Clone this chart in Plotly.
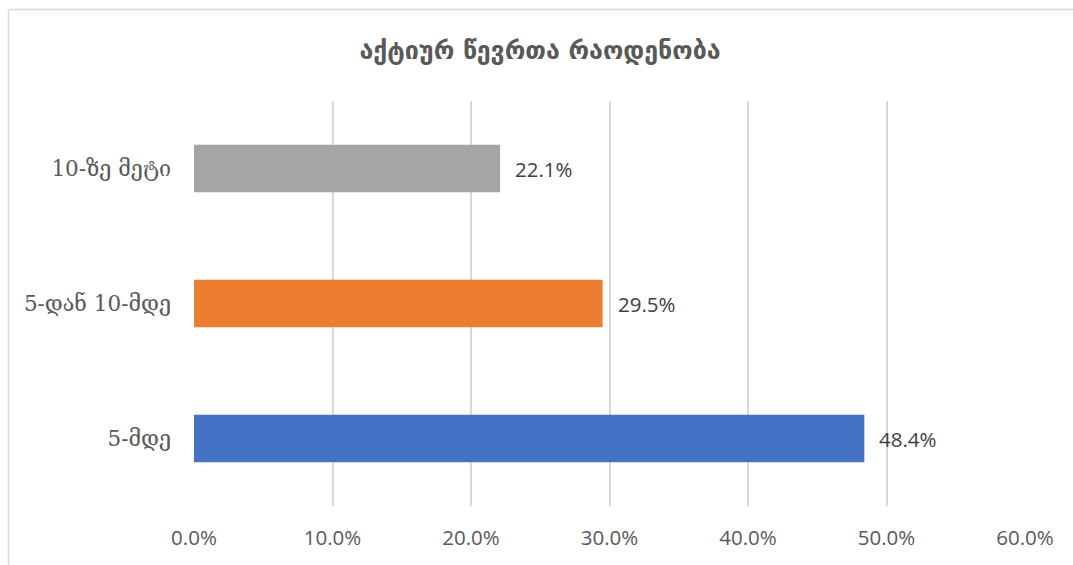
import plotly.graph_objects as go

categories = ["5-მდე", "5-დან 10-მდე", "10-ზე მეტი"]
values = [48.4, 29.5, 22.1]
colors = ["#4472C4", "#ED7D31", "#A5A5A5"]
tick_vals = [0, 10, 20, 30, 40, 50, 60]
tick_text = ["0.0%", "10.0%", "20.0%", "30.0%", "40.0%", "50.0%", "60.0%"]
title_text = "აქტიურ წევრთა რაოდენობა"

W, H = 1073, 565
L, T = 194, 101
pw, ph = 831, 405
R, B = W - L - pw, H - T - ph

fig = go.Figure()
fig.add_trace(go.Bar(
    x=values, y=categories, orientation="h",
    marker=dict(color=colors, line=dict(width=0)),
    hoverinfo="skip",
))

for v, c in zip(values, categories):
    fig.add_annotation(
        x=v, y=c, xref="x", yref="y", text=f"{v:.1f}%",
        showarrow=False, xanchor="left", xshift=13,
        font=dict(family="Open Sans, DejaVu Sans", size=20.5, color="#404040"),
    )

# outer chart frame (only left and top edges fall inside the view)
fx0 = (8.5 - L) / pw
fx1 = (W + 30 - L) / pw
fy0 = -(B + 30) / ph
fy1 = 1 + (T - 9.5) / ph
fig.add_shape(type="line", xref="paper", yref="paper", x0=fx0, x1=fx0, y0=fy0, y1=fy1,
              line=dict(color="#D9D9D9", width=1.5), layer="below")
fig.add_shape(type="line", xref="paper", yref="paper", x0=fx0, x1=fx1, y0=fy1, y1=fy1,
              line=dict(color="#D9D9D9", width=1.5), layer="below")

fig.update_layout(
    width=W, height=H,
    margin=dict(l=L, r=R, t=T, b=B),
    paper_bgcolor="white", plot_bgcolor="white",
    showlegend=False,
    bargap=0.647,
    title=dict(
        text=f"<b>{title_text}</b>", x=540 / W, xref="container", xanchor="center",
        y=1 - 50 / H, yanchor="middle",
        font=dict(family="DejaVu Sans", size=25, color="#595959"),
    ),
    xaxis=dict(
        range=[0, 60], tickvals=tick_vals, ticktext=tick_text,
        showgrid=True, gridcolor="#D9D9D9", gridwidth=2,
        zeroline=False, showline=False, ticks="",
        ticklabelstandoff=17,
        tickfont=dict(family="Open Sans, DejaVu Sans", size=20.5, color="#595959"),
        fixedrange=True,
    ),
    yaxis=dict(
        categoryorder="array", categoryarray=categories,
        showgrid=False, zeroline=False, showline=False, ticks="",
        ticklabelstandoff=22,
        tickfont=dict(family="DejaVu Serif, DejaVu Sans", size=21.5, color="#595959"),
        fixedrange=True,
    ),
)

fig.write_html(
    "out.html",
    config={"displayModeBar": False, "staticPlot": True},
    post_script="document.body.style.margin='0';document.body.style.overflow='hidden';",
)
